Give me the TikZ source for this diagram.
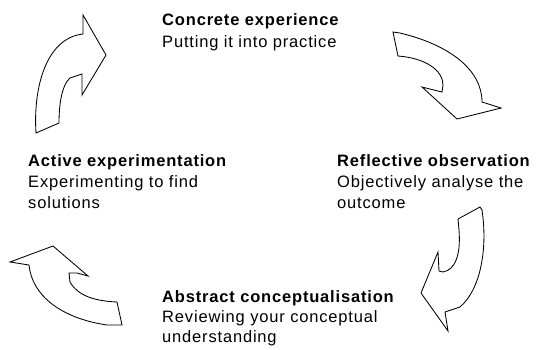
\documentclass[tikz,border=0pt]{standalone}
\usepackage{fontspec}
\newfontfamily\lblfont{Liberation Sans}[LetterSpace=5]
\tikzset{
  lbl/.style={anchor=base west, inner sep=0pt, font=\lblfont\fontsize{16.5}{20}\selectfont},
  ttl/.style={anchor=base west, inner sep=0pt, font=\lblfont\bfseries\fontsize{16.5}{20}\selectfont},
  arr/.style={draw=black, line width=0.85pt, line join=miter, fill=white}
}
\begin{document}
\begin{tikzpicture}[x=1pt,y=-1pt]
\fill[white] (0,0) rectangle (537,349);
\useasboundingbox (0,0) rectangle (537,349);

% top-left arrow
\draw[arr] (83,15) -- (106,55) -- (82,95) -- (82,74) -- (70,78)
  .. controls (63,84) and (59,100) .. (59,123) -- (36,133)
  .. controls (33,88) and (46,38) .. (83,34) -- cycle;
% top-right arrow
\draw[arr] (393,32) -- (398,56)
  .. controls (425,58) and (443,70) .. (443,85) -- (442,92) -- (422,87)
  -- (457,119) -- (501,108) -- (482,102)
  .. controls (482,70) and (450,45) .. (400,33) -- cycle;
% bottom-right arrow
\draw[arr] (480,207) -- (458,219) -- (459,230)
  .. controls (461,255) and (455,270) .. (443,272) -- (439,271) -- (438,252)
  -- (421,293) -- (448,331) -- (445,312) -- (460,307)
  .. controls (480,290) and (488,250) .. (482,210) -- cycle;
% bottom-left arrow
\draw[arr] (10,262) -- (53,246) -- (88,276) -- (77,273) -- (69,273) -- (70,282)
  .. controls (78,296) and (95,301) .. (117,302) -- (122,325) -- (107,325)
  .. controls (60,318) and (32,295) .. (29,265) -- cycle;

% texts
\node[ttl] (ce) at (162,25) {Concrete experience};
\node[lbl] (ce1) at (162,47) {Putting it into practice};

\node[ttl] (ae) at (28,166) {Active experimentation};
\node[lbl] (ae1) at (28,187) {Experimenting to find};
\node[lbl] (ae2) at (28,208) {solutions};

\node[ttl] (ro) at (337,166) {Reflective observation};
\node[lbl] (ro1) at (337,187) {Objectively analyse the};
\node[lbl] (ro2) at (337,208) {outcome};

\node[ttl] (ac) at (162,302) {Abstract conceptualisation};
\node[lbl] (ac1) at (162,322) {Reviewing your conceptual};
\node[lbl] (ac2) at (162,342) {understanding};
\end{tikzpicture}
\end{document}
